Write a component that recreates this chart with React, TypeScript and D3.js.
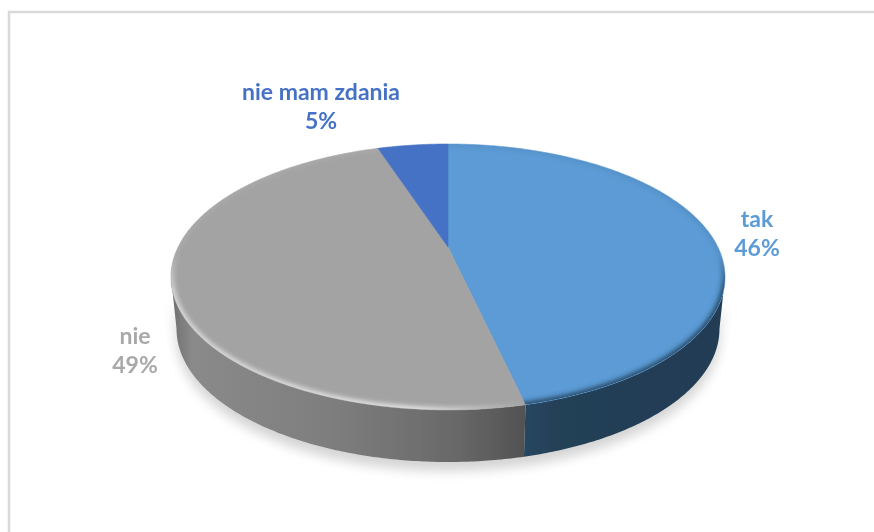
import React from "react";
import * as d3 from "d3";

const categories = ["tak", "nie", "nie mam zdania"];
const values = [46.4, 48.5, 5.1];
const percentLabels = ["46%", "49%", "5%"];
const topColors = ["#5B9BD5", "#A3A3A3", "#4472C4"];
const labelColors = ["#5B9BD5", "#A9A9A9", "#4472C4"];
const labelAnchors: [number, number][] = [[757, 220], [135, 337], [321, 93]];

const W = 874, H = 532;
const cx = 448, cy = 277, rx = 277, ry = 133, depth = 52;
const lowerScale = 0.98;
const apexShift = 0.225;

// projective map of the unit disk so that the pie centre falls at the perspective apex
function project(angle: number, r = 1): [number, number] {
  const u = Math.sin(angle) * r, v = Math.cos(angle) * r;
  const den = 1 + apexShift * v;
  const xn = (u * Math.sqrt(1 - apexShift * apexShift)) / den;
  const yn = (v + apexShift) / den;
  return [cx + rx * xn, cy - ry * yn];
}
const sampleAngles = (a0: number, a1: number) => {
  const n = Math.max(2, Math.ceil(Math.abs(a1 - a0) / 0.01));
  return d3.range(n + 1).map((i) => a0 + ((a1 - a0) * i) / n);
};
const line = d3.line<[number, number]>();

// the silhouette of the disk is widest where the projected y equals the ellipse centre
const wallStart = Math.acos(-apexShift);
const wallEnd = 2 * Math.PI - wallStart;

export default function App() {
  const pie = d3.pie<number>().value((d) => d).sort(null);
  const arcs = pie(values);
  const apex = project(0, 0);

  const topPath = (a0: number, a1: number) =>
    (line([apex, ...sampleAngles(a0, a1).map((a) => project(a))]) ?? "") + "Z";

  const wallPath = (a0: number, a1: number) => {
    const lo = Math.max(a0, wallStart);
    const hi = Math.min(a1, wallEnd);
    if (hi <= lo) return "";
    const upper = sampleAngles(lo, hi).map((a) => project(a));
    const lower = [...upper].reverse().map(
      ([x, y]) => [cx + (x - cx) * lowerScale, y + depth] as [number, number]
    );
    return (line([...upper, ...lower]) ?? "") + "Z";
  };

  const whole = sampleAngles(0, 2 * Math.PI).map((a) => project(a));
  const ellipseD = (line(whole) ?? "") + "Z";
  const frontD = wallPath(0, 2 * Math.PI);
  const boundaryX = project(arcs[0].endAngle)[0];

  return (
    <svg
      width={W}
      height={H}
      style={{ position: "absolute", left: 0, top: 0, background: "#fff" }}
      fontFamily="Lato, 'Open Sans', sans-serif"
    >
      <defs>
        <filter id="shadow" x="-20%" y="-20%" width="140%" height="160%">
          <feGaussianBlur stdDeviation="6" />
        </filter>
        <filter id="soft" x="-5%" y="-5%" width="110%" height="110%">
          <feGaussianBlur stdDeviation="2.4" />
        </filter>
        <filter id="softEdge" x="-5%" y="-5%" width="110%" height="110%">
          <feGaussianBlur stdDeviation="0.5" />
        </filter>
        <filter id="textSoft" x="-5%" y="-5%" width="110%" height="110%">
          <feGaussianBlur stdDeviation="0.35" />
        </filter>
        <linearGradient id="grayWall" gradientUnits="userSpaceOnUse" x1={cx - rx} x2={boundaryX} y1={0} y2={0}>
          <stop offset="0" stopColor="#6f6f6f" />
          <stop offset="0.06" stopColor="#8a8a8a" />
          <stop offset="0.45" stopColor="#7e7e7e" />
          <stop offset="0.8" stopColor="#696969" />
          <stop offset="1" stopColor="#525252" />
        </linearGradient>
        <linearGradient id="blueWall" gradientUnits="userSpaceOnUse" x1={boundaryX} x2={cx + rx} y1={0} y2={0}>
          <stop offset="0" stopColor="#27465f" />
          <stop offset="0.2" stopColor="#243f56" />
          <stop offset="1" stopColor="#233d53" />
        </linearGradient>
        <linearGradient id="rimGray" gradientUnits="userSpaceOnUse" x1={cx - rx} x2={boundaryX} y1={0} y2={0}>
          <stop offset="0" stopColor="#f4f4f4" stopOpacity={0.8} />
          <stop offset="0.7" stopColor="#f4f4f4" stopOpacity={0.95} />
          <stop offset="0.88" stopColor="#f4f4f4" stopOpacity={0.4} />
          <stop offset="1" stopColor="#f4f4f4" stopOpacity={0} />
        </linearGradient>
        <linearGradient id="fadeDown" gradientUnits="userSpaceOnUse" x1={0} x2={0} y1={cy - ry} y2={cy + ry}>
          <stop offset="0" stopColor="#fff" stopOpacity={0.1} />
          <stop offset="0.42" stopColor="#fff" stopOpacity={0.15} />
          <stop offset="0.55" stopColor="#fff" stopOpacity={1} />
          <stop offset="1" stopColor="#fff" stopOpacity={1} />
        </linearGradient>
        <mask id="rimMask" maskUnits="userSpaceOnUse" x={0} y={0} width={W} height={H}>
          <rect x={0} y={0} width={W} height={H} fill="url(#fadeDown)" />
        </mask>
        <clipPath id="topClip"><path d={ellipseD} /></clipPath>
        <clipPath id="blueSide"><path d={topPath(arcs[0].startAngle, arcs[0].endAngle)} /></clipPath>
        <clipPath id="graySide"><path d={topPath(arcs[1].startAngle, arcs[1].endAngle)} /></clipPath>
      </defs>

      <rect x={9} y={12} width={W + 20} height={H + 20} fill="none" stroke="#d9d9d9" strokeWidth={2.5} />

      <path d={frontD} fill="#000" opacity={0.17} filter="url(#shadow)" transform="translate(0,9)" />

      <g filter="url(#softEdge)">
        {arcs.map((arc, i) => {
          const d = wallPath(arc.startAngle, arc.endAngle);
          return d ? (
            <path key={categories[i]} d={d} fill={i === 0 ? "url(#blueWall)" : i === 1 ? "url(#grayWall)" : "#2c4a80"} />
          ) : null;
        })}
        {arcs.map((arc, i) => (
          <path
            key={categories[i]}
            d={topPath(arc.startAngle, arc.endAngle)}
            fill={topColors[i]}
            stroke={topColors[i]}
            strokeWidth={0.6}
          />
        ))}
      </g>

      <g clipPath="url(#topClip)">
        <g clipPath="url(#blueSide)" mask="url(#rimMask)">
          <path d={ellipseD} fill="none" stroke="#1f3a52" strokeWidth={5} filter="url(#soft)" />
        </g>
        <g clipPath="url(#graySide)" mask="url(#rimMask)">
          <path d={ellipseD} fill="none" stroke="url(#rimGray)" strokeWidth={5} filter="url(#soft)" />
        </g>
      </g>

      <g filter="url(#textSoft)">
        {categories.map((c, i) => (
          <text key={c} textAnchor="middle" fontWeight={700} fontSize={23} fill={labelColors[i]}>
            <tspan x={labelAnchors[i][0]} y={labelAnchors[i][1] + 7}>{c}</tspan>
            <tspan x={labelAnchors[i][0]} y={labelAnchors[i][1] + 36}>{percentLabels[i]}</tspan>
          </text>
        ))}
      </g>
    </svg>
  );
}
